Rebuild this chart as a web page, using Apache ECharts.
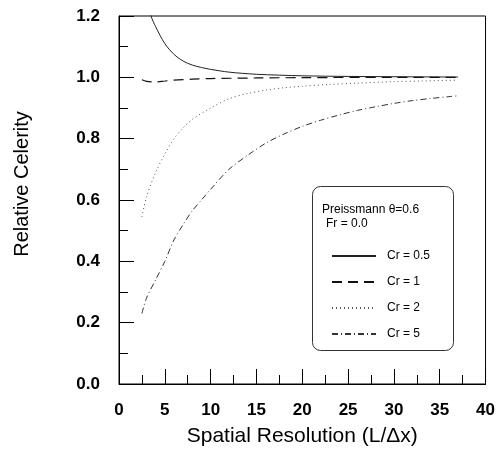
<!DOCTYPE html>
<html>
<head>
<meta charset="utf-8">
<script src="https://cdn.jsdelivr.net/npm/echarts@6/dist/echarts.min.js"></script>
<style>html,body{margin:0;padding:0;background:#fff}#c{width:498px;height:454px}</style>
</head>
<body>
<div id="c"></div>
<script>
var xTicks = [0, 5, 10, 15, 20, 25, 30, 35, 40];
var yTicks = [0.0, 0.2, 0.4, 0.6, 0.8, 1.0, 1.2];

var cr05X = [3.2, 3.5, 4, 5, 6, 7, 8, 9, 10, 12, 15, 20, 25, 30, 37];
var cr05Y = [1.25, 1.20, 1.165, 1.11, 1.075, 1.053, 1.04, 1.032, 1.026, 1.017, 1.01, 1.005, 1.003, 1.002, 1.001];

var cr1X = [2.5, 3, 4, 5, 6, 8, 10, 15, 20, 30, 37];
var cr1Y = [0.992, 0.987, 0.985, 0.988, 0.991, 0.994, 0.996, 0.998, 0.999, 1.0, 1.0];

var cr2X = [2.5, 3, 4, 5, 6, 7, 8, 10, 12, 14, 16, 18, 20, 23, 26, 30, 33, 37];
var cr2Y = [0.545, 0.61, 0.69, 0.75, 0.80, 0.835, 0.863, 0.90, 0.93, 0.947, 0.958, 0.966, 0.971, 0.977, 0.981, 0.986, 0.988, 0.991];

var cr5X = [2.5, 3, 4, 5, 6, 7, 8, 9, 10, 12, 14, 16, 18, 20, 22, 24, 26, 28, 30, 32, 34, 36, 37];
var cr5Y = [0.23, 0.28, 0.34, 0.40, 0.47, 0.52, 0.565, 0.60, 0.635, 0.70, 0.745, 0.785, 0.815, 0.84, 0.86, 0.877, 0.892, 0.904, 0.915, 0.924, 0.931, 0.937, 0.94];

var seriesNames = ['Cr = 0.5', 'Cr = 1', 'Cr = 2', 'Cr = 5'];

function pairs(xs, ys) { return xs.map(function (x, i) { return [x, ys[i]]; }); }

var chart = echarts.init(document.getElementById('c'));
var font = 'Liberation Sans, Arial, sans-serif';
chart.setOption({
  animation: false,
  backgroundColor: '#fff',
  grid: { left: 119, right: 10, top: 16, bottom: 70, show: true, borderColor: '#000', borderWidth: 1 },
  xAxis: {
    type: 'value', min: 0, max: 40, interval: 5,
    name: 'Spatial Resolution (L/\u0394x)', nameLocation: 'middle', nameGap: 42,
    nameTextStyle: { fontFamily: font, fontSize: 21, color: '#000' },
    axisLine: { lineStyle: { color: '#000', width: 1 } },
    axisTick: { inside: true, length: 15, lineStyle: { color: '#000' } },
    minorTick: { show: true, splitNumber: 2, length: 9, lineStyle: { color: '#000' } },
    splitLine: { show: false },
    axisLabel: { fontFamily: font, fontSize: 17, fontWeight: 'bold', color: '#000', margin: 18,
      formatter: function (v) { return xTicks.indexOf(v) >= 0 ? String(v) : ''; } }
  },
  yAxis: {
    type: 'value', min: 0, max: 1.2, interval: 0.2,
    axisLine: { lineStyle: { color: '#000', width: 1 } },
    axisTick: { inside: true, length: 15, lineStyle: { color: '#000' } },
    minorTick: { show: true, splitNumber: 2, length: 9, lineStyle: { color: '#000' } },
    splitLine: { show: false },
    axisLabel: { fontFamily: font, fontSize: 17, fontWeight: 'bold', color: '#000', margin: 19,
      formatter: function (v) { return v.toFixed(1); } }
  },
  legend: {
    orient: 'vertical', left: 326, top: 245, itemWidth: 44, itemHeight: 12, itemGap: 14,
    data: seriesNames,
    itemStyle: { color: 'rgba(0,0,0,0)', borderColor: 'rgba(0,0,0,0)', borderWidth: 0 },
    textStyle: { fontFamily: font, fontSize: 12, color: '#000', padding: [0, 0, 0, 6] }
  },
  graphic: [
    { type: 'rect', left: 312, top: 186, shape: { width: 141, height: 164, r: 8 },
      style: { fill: '#fff', stroke: '#333', lineWidth: 1 }, z: 0 },
    { type: 'text', left: 322, top: 204, style: { text: 'Preissmann \u03b8=0.6', font: '12px ' + font, fill: '#000' }, z: 10 },
    { type: 'text', left: 326, top: 218, style: { text: 'Fr = 0.0', font: '12px ' + font, fill: '#000' }, z: 10 },
    { type: 'text', x: 22, y: 184, rotation: Math.PI / 2,
      style: { text: 'Relative Celerity', font: '20px ' + font, fill: '#000', align: 'center', verticalAlign: 'middle' } }
  ],
  series: [
    { name: seriesNames[0], type: 'line', data: pairs(cr05X, cr05Y), showSymbol: false, symbol: 'none', smooth: 0.3,
      lineStyle: { color: '#222', width: 1, type: 'solid' }, itemStyle: { color: '#222' } },
    { name: seriesNames[1], type: 'line', data: pairs(cr1X, cr1Y), showSymbol: false, symbol: 'none', smooth: 0.3,
      lineStyle: { color: '#111', width: 1.2, type: [10, 6] }, itemStyle: { color: '#111' } },
    { name: seriesNames[2], type: 'line', data: pairs(cr2X, cr2Y), showSymbol: false, symbol: 'none', smooth: 0.3,
      lineStyle: { color: '#555', width: 1, type: [1, 3] }, itemStyle: { color: '#555' } },
    { name: seriesNames[3], type: 'line', data: pairs(cr5X, cr5Y), showSymbol: false, symbol: 'none', smooth: 0.3,
      lineStyle: { color: '#333', width: 1, type: [6, 3, 1, 3] }, itemStyle: { color: '#333' } }
  ]
});
</script>
</body>
</html>
